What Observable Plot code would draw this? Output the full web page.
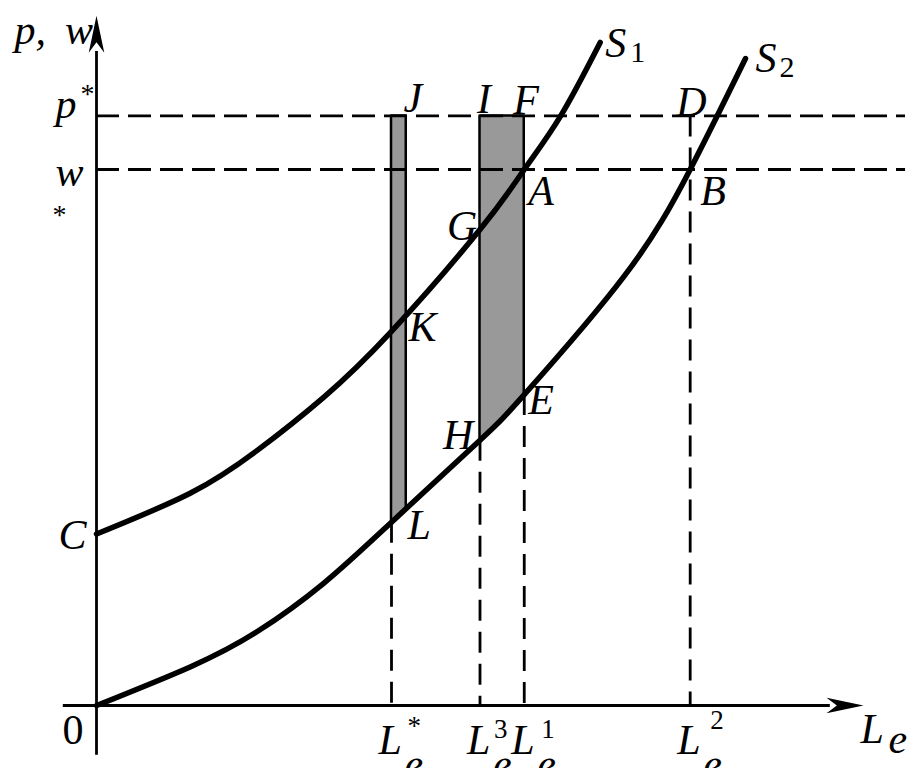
<!DOCTYPE html>
<html><head><meta charset="utf-8">
<script src="https://cdn.jsdelivr.net/npm/d3@7"></script>
<script src="https://cdn.jsdelivr.net/npm/@observablehq/plot@0.6"></script>
<style>body{margin:0;background:#fff}#chart svg{display:block}</style>
</head><body><div id="chart"></div>
<script>
// ---- data ----
const pStar = 11, wStar = 10;
const xTicks = [4, 5.2, 5.8, 8.05];            // L*, L3, L1, L2
const xTickSup = ["*", "3", "1", "2"];
const s1X = [0, 1.27, 2.18, 3.08, 4, 5.2, 5.8, 6.29, 6.83];
const s1Y = [3.2, 3.96, 4.76, 5.75, 6.98, 8.88, 10, 10.99, 12.37];
const s2X = [0, 1.27, 2.18, 3.08, 4, 5.2, 5.8, 7.15, 8.05, 8.8];
const s2Y = [0, 0.72, 1.38, 2.28, 3.42, 4.95, 5.8, 8.0, 10, 12.07];
const pointNames = ["J", "I", "F", "D", "A", "B", "G", "K", "E", "H", "L", "C"];
const pointX = [4, 5.2, 5.8, 8.05, 5.8, 8.05, 5.2, 4, 5.8, 5.2, 4, 0];
const pointY = [11, 11, 11, 11, 10, 10, 8.88, 6.98, 5.8, 4.95, 3.42, 3.2];
const stripLeftX = [4, 4.2], stripLeftBottom = [3.42, 3.67];
const stripRightX = [5.2, 5.5, 5.8], stripRightBottom = [4.95, 5.36, 5.8];
const dashTops = [3.42, 4.95, 5.8, 11];
const dashEnd = 10.97;
const yAxisRange = [-0.93, 12.2], yArrowTip = 12.87;
const xAxisRange = [-0.45, 9.95], xArrowTip = 10.4;

// ---- layout / styles ----
const FONT = "Liberation Serif";
const FS = 42;
const labelOffsets = {
  J: [12, -4], I: [-3, -3], F: [-11, -2], D: [-14, 0],
  A: [4, 35], B: [10, 35], G: [-33, 10], K: [17, 10],
  E: [4, 19], H: [-37, 9], L: [16, 17], C: [-38, 15]
};
const supOffsets = [[16, 29], [14, 32], [17, 32], [20, 23]];

const arrowSymbol = {
  draw(ctx, size) {
    const s = Math.sqrt(size / Math.PI);
    ctx.moveTo(0, 0);
    ctx.lineTo(-0.21 * s, s);
    ctx.lineTo(0, 0.72 * s);
    ctx.lineTo(0.21 * s, s);
    ctx.closePath();
  }
};

const s1 = s1X.map((x, i) => ({x, y: s1Y[i]}));
const s2 = s2X.map((x, i) => ({x, y: s2Y[i]}));
const pts = pointNames.map((name, i) => ({name, x: pointX[i], y: pointY[i], dx: labelOffsets[name][0], dy: labelOffsets[name][1]}));
const stripL = stripLeftX.map((x, i) => ({x, y1: stripLeftBottom[i], y2: pStar}));
const stripR = stripRightX.map((x, i) => ({x, y1: stripRightBottom[i], y2: pStar}));
const vDash = xTicks.map((x, i) => ({x, top: dashTops[i]}));
const ticks = xTicks.map((x, i) => ({x, sup: xTickSup[i]}));

const italic = {fontFamily: FONT, fontStyle: "italic", fontSize: FS, textAnchor: "start", lineAnchor: "bottom", fill: "black"};
const upright = {fontFamily: FONT, fontStyle: "normal", textAnchor: "start", lineAnchor: "bottom", fill: "black"};

const marks = [
  Plot.areaY(stripL, {x: "x", y1: "y1", y2: "y2", fill: "#999999", stroke: "black", strokeWidth: 2.5}),
  Plot.areaY(stripR, {x: "x", y1: "y1", y2: "y2", fill: "#999999", stroke: "black", strokeWidth: 2.5}),
  Plot.ruleY([pStar, wStar], {x1: 0, x2: dashEnd, stroke: "black", strokeWidth: 2.8, strokeDasharray: "23,9"}),
  Plot.ruleX(vDash, {x: "x", y1: "top", y2: 0, stroke: "black", strokeWidth: 2.8, strokeDasharray: "21,11"}),
  Plot.ruleX([0], {y1: yAxisRange[0], y2: yAxisRange[1], stroke: "black", strokeWidth: 2.8}),
  Plot.ruleY([0], {x1: xAxisRange[0], x2: xAxisRange[1], stroke: "black", strokeWidth: 2.8}),
  Plot.dot([{x: 0, y: yArrowTip, a: 0}, {x: xArrowTip, y: 0, a: 90}], {x: "x", y: "y", rotate: "a", symbol: arrowSymbol, r: 37, fill: "black", stroke: "none"}),
  Plot.line(s1, {x: "x", y: "y", curve: "natural", stroke: "black", strokeWidth: 5.5}),
  Plot.line(s2, {x: "x", y: "y", curve: "natural", stroke: "black", strokeWidth: 5.5}),
  // point labels
  ...pts.map(p => Plot.text([p], {x: "x", y: "y", text: "name", dx: p.dx, dy: p.dy, ...italic})),
  // curve labels
  Plot.text([s1[s1.length - 1]], {x: "x", y: "y", text: () => "S", dx: 5, dy: 15, ...italic}),
  Plot.text([s1[s1.length - 1]], {x: "x", y: "y", text: () => "1", dx: 30, dy: 20, ...upright, fontSize: 30}),
  Plot.text([s2[s2.length - 1]], {x: "x", y: "y", text: () => "S", dx: 10, dy: 13, ...italic}),
  Plot.text([s2[s2.length - 1]], {x: "x", y: "y", text: () => "2", dx: 34, dy: 18, ...upright, fontSize: 30}),
  // y axis labels
  Plot.text([{x: 0, y: yArrowTip}], {x: "x", y: "y", text: () => "p,\u00a0\u2009w", dx: -82, dy: 28, ...italic}),
  Plot.text([{x: 0, y: pStar}], {x: "x", y: "y", text: () => "p", dx: -41, dy: 2, ...italic}),
  Plot.text([{x: 0, y: pStar}], {x: "x", y: "y", text: () => "*", dx: -16, dy: -13, ...upright, fontSize: 28}),
  Plot.text([{x: 0, y: wStar}], {x: "x", y: "y", text: () => "w", dx: -41, dy: 16, ...italic}),
  Plot.text([{x: 0, y: wStar}], {x: "x", y: "y", text: () => "*", dx: -44, dy: 54, ...upright, fontSize: 28}),
  Plot.text([{x: 0, y: 0}], {x: "x", y: "y", text: () => "0", dx: -34, dy: 38, ...upright, fontSize: FS}),
  // x axis labels
  Plot.text(ticks, {x: "x", y: () => 0, text: () => "L", dx: -13, dy: 48, ...italic}),
  Plot.text(ticks, {x: "x", y: () => 0, text: () => "e", dx: 13, dy: 72, ...italic}),
  ...ticks.map((t, i) => Plot.text([t], {x: "x", y: () => 0, text: "sup", dx: supOffsets[i][0], dy: supOffsets[i][1], ...upright, fontSize: 27})),
  Plot.text([{x: xArrowTip, y: 0}], {x: "x", y: "y", text: () => "L", dx: -3, dy: 37, ...italic}),
  Plot.text([{x: xArrowTip, y: 0}], {x: "x", y: "y", text: () => "e", dx: 25, dy: 47, ...italic})
];

const chart = Plot.plot({
  width: 924, height: 768, margin: 0,
  x: {domain: [0, 10], range: [96, 833.5], axis: null},
  y: {domain: [0, 10], range: [705, 169], axis: null},
  style: {background: "white"},
  marks
});
document.getElementById("chart").append(chart);
</script>
</body></html>
